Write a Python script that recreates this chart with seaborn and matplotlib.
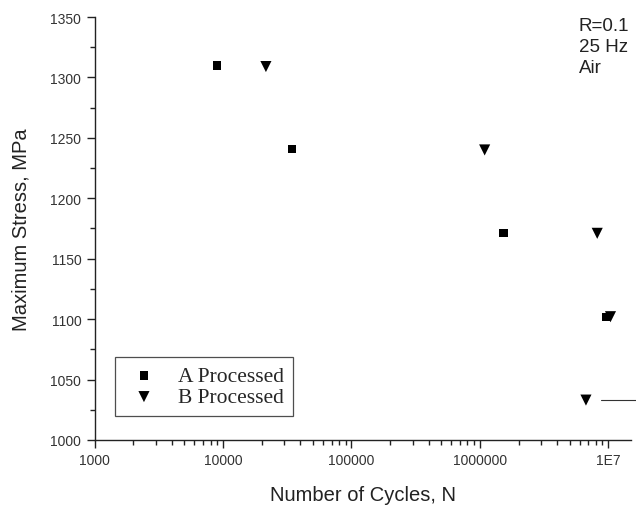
import numpy as np
import pandas as pd
import seaborn as sns
import matplotlib.pyplot as plt
from matplotlib.ticker import FixedLocator, MultipleLocator, LogLocator, NullFormatter

# fatigue data
a_cycles = [9000, 34400, 1530000, 9600000]
a_stress = [1310, 1241, 1171, 1102]
b_cycles = [21600, 1090000, 8200000, 10400000, 6700000]
b_stress = [1309, 1240, 1171, 1102, 1033]

# runout arrow for the last B specimen
runout_cycles = [8800000, 16300000]
runout_stress = [1033, 1033]

x_ticks = [1e3, 1e4, 1e5, 1e6, 1e7]
x_labels = ['1000', '10000', '100000', '1000000', '1E7']
y_ticks = [1000, 1050, 1100, 1150, 1200, 1250, 1300, 1350]

df_a = pd.DataFrame({'cycles': a_cycles, 'stress': a_stress})
df_b = pd.DataFrame({'cycles': b_cycles, 'stress': b_stress})

sns.set_style('ticks')
plt.rcParams['font.family'] = ['Liberation Sans', 'DejaVu Sans']

fig = plt.figure(figsize=(6.36, 5.06), dpi=100)
ax = fig.add_axes([0.1486, 0.1285, 0.8434, 0.8359])

sns.scatterplot(data=df_a, x='cycles', y='stress', marker='s', s=36, color='black',
                edgecolor='none', label='A Processed', ax=ax, clip_on=False, zorder=3)
sns.scatterplot(data=df_b, x='cycles', y='stress', marker='v', s=64, color='black',
                edgecolor='none', label='B Processed', ax=ax, clip_on=False, zorder=3)
ax.plot(runout_cycles, runout_stress, color='#333333', lw=0.8, clip_on=False)

ax.set_xscale('log')
ax.set_xlim(1e3, 1.5e7)
ax.set_ylim(1000, 1350)

ax.xaxis.set_major_locator(FixedLocator(x_ticks))
ax.set_xticklabels(x_labels)
ax.xaxis.set_minor_locator(LogLocator(base=10, subs=np.arange(2, 10)))
ax.xaxis.set_minor_formatter(NullFormatter())
ax.yaxis.set_major_locator(FixedLocator(y_ticks))
ax.yaxis.set_minor_locator(MultipleLocator(25))

ax.tick_params(which='major', direction='out', length=6, width=1, labelsize=10,
               colors='#222222', labelcolor='#333333')
ax.tick_params(which='minor', direction='out', length=3.5, width=1, colors='#222222')

sns.despine(ax=ax)
for sp in ['left', 'bottom']:
    ax.spines[sp].set_linewidth(1)
    ax.spines[sp].set_color('#222222')

ax.set_xlabel('Number of Cycles, N', fontsize=14.5, color='#222222', labelpad=13)
ax.set_ylabel('Maximum Stress, MPa', fontsize=14.5, color='#222222', labelpad=14)

ax.text(0.903, 1.0, 'R=0.1\n25 Hz\nAir', transform=ax.transAxes, ha='left', va='top',
        fontsize=13.5, color='#222222', linespacing=1.3)

leg = ax.legend(loc='lower left', bbox_to_anchor=(0.038, 0.057), frameon=True, fancybox=False,
                prop={'family': 'Liberation Serif', 'size': 15.5}, handletextpad=0.65,
                borderpad=0.4, labelspacing=0.05, borderaxespad=0, handlelength=1.9)
leg.get_frame().set_edgecolor('#222222')
leg.get_frame().set_linewidth(0.9)

fig.savefig('out.png', dpi=100)
